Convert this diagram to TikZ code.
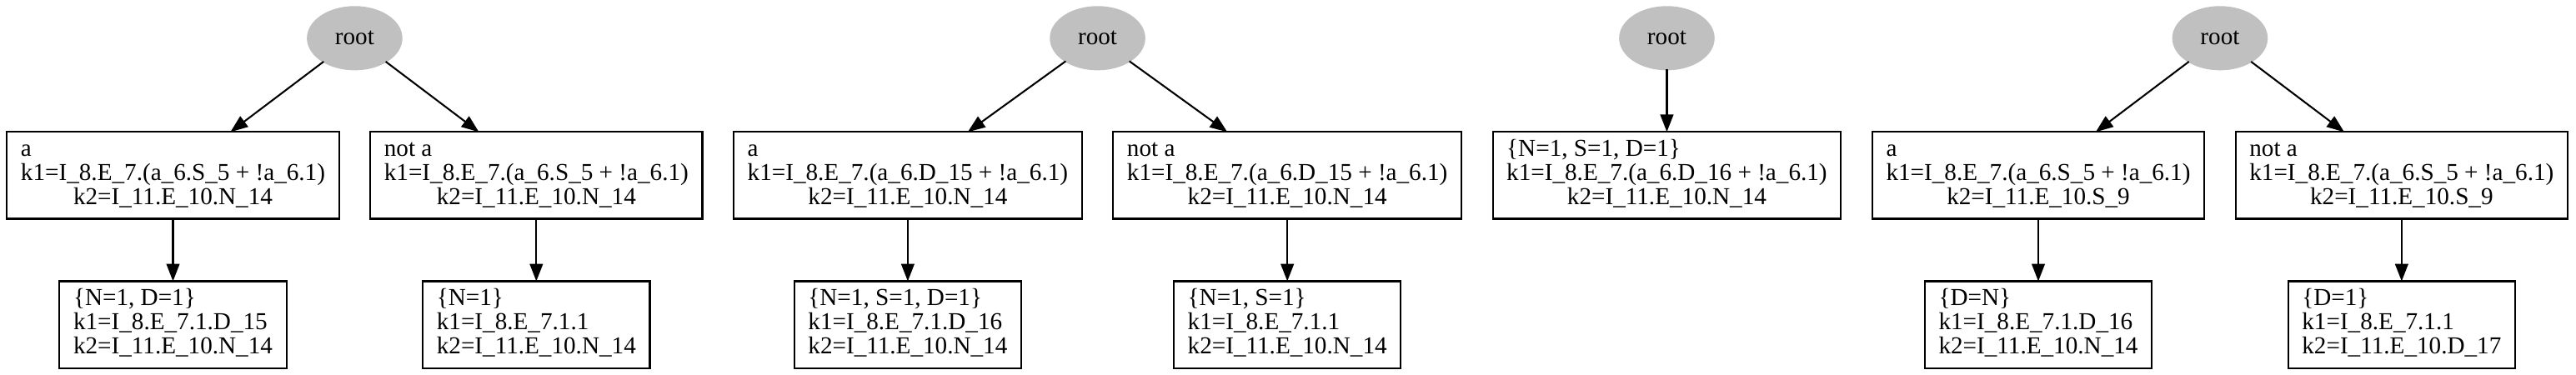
\documentclass[tikz,border=0pt]{standalone}
\usepackage{fontspec}
\setmainfont{Liberation Serif}
\usetikzlibrary{arrows.meta,positioning,calc,shapes.geometric}
\definecolor{rootgray}{HTML}{C0C0C0}
\newcommand{\condlab}[3]{\begin{tabular}{@{}l@{}}#1\\#2\\\multicolumn{1}{@{}c@{}}{#3}\end{tabular}}
\newcommand{\leaflab}[3]{\begin{tabular}{@{}l@{}}#1\\#2\\#3\end{tabular}}
\tikzset{
  rootnode/.style={ellipse,fill=rootgray,draw=rootgray,line width=1pt,
    minimum width=54pt,minimum height=36pt,inner sep=0pt,outer sep=0pt,
    font=\fontsize{14}{14}\selectfont},
  condbox/.style={draw,line width=1pt,inner xsep=8pt,inner ysep=4pt,
    outer sep=0pt,font=\fontsize{14}{14}\selectfont},
  link/.style={line width=1pt,-{Triangle[length=10pt,width=7.5pt]}}
}

\begin{document}
\begin{tikzpicture}
  \useasboundingbox (0,0) rectangle (1483.2pt,-216pt);
  % middle row, left to right
  \node[condbox,anchor=west] (a1) at (4pt,-101pt)
    {\condlab{a}{k1=I\_8.E\_7.(a\_6.S\_5 + !a\_6.1)}{k2=I\_11.E\_10.N\_14}};
  \node[condbox,right=18pt of a1] (n1)
    {\condlab{not a}{k1=I\_8.E\_7.(a\_6.S\_5 + !a\_6.1)}{k2=I\_11.E\_10.N\_14}};
  \node[condbox,right=18pt of n1] (a2)
    {\condlab{a}{k1=I\_8.E\_7.(a\_6.D\_15 + !a\_6.1)}{k2=I\_11.E\_10.N\_14}};
  \node[condbox,right=18pt of a2] (n2)
    {\condlab{not a}{k1=I\_8.E\_7.(a\_6.D\_15 + !a\_6.1)}{k2=I\_11.E\_10.N\_14}};
  \node[condbox,right=18pt of n2] (c3)
    {\condlab{\{N=1, S=1, D=1\}}{k1=I\_8.E\_7.(a\_6.D\_16 + !a\_6.1)}{k2=I\_11.E\_10.N\_14}};
  \node[condbox,right=18pt of c3] (a4)
    {\condlab{a}{k1=I\_8.E\_7.(a\_6.S\_5 + !a\_6.1)}{k2=I\_11.E\_10.S\_9}};
  \node[condbox,right=18pt of a4] (n4)
    {\condlab{not a}{k1=I\_8.E\_7.(a\_6.S\_5 + !a\_6.1)}{k2=I\_11.E\_10.S\_9}};

  % bottom row
  \node[condbox,below=36pt of a1] (l1)
    {\leaflab{\{N=1, D=1\}}{k1=I\_8.E\_7.1.D\_15}{k2=I\_11.E\_10.N\_14}};
  \node[condbox,below=36pt of n1] (m1)
    {\leaflab{\{N=1\}}{k1=I\_8.E\_7.1.1}{k2=I\_11.E\_10.N\_14}};
  \node[condbox,below=36pt of a2] (l2)
    {\leaflab{\{N=1, S=1, D=1\}}{k1=I\_8.E\_7.1.D\_16}{k2=I\_11.E\_10.N\_14}};
  \node[condbox,below=36pt of n2] (m2)
    {\leaflab{\{N=1, S=1\}}{k1=I\_8.E\_7.1.1}{k2=I\_11.E\_10.N\_14}};
  \node[condbox,below=36pt of a4] (l4)
    {\leaflab{\{D=N\}}{k1=I\_8.E\_7.1.D\_16}{k2=I\_11.E\_10.N\_14}};
  \node[condbox,below=36pt of n4] (m4)
    {\leaflab{\{D=1\}}{k1=I\_8.E\_7.1.1}{k2=I\_11.E\_10.D\_17}};

  % roots
  \node[rootnode] (r1) at ($(a1.north)!0.5!(n1.north)+(0,54pt)$) {root};
  \node[rootnode] (r2) at ($(a2.north)!0.5!(n2.north)+(0,54pt)$) {root};
  \node[rootnode] (r3) at ($(c3.north)+(0,54pt)$) {root};
  \node[rootnode] (r4) at ($(a4.north)!0.5!(n4.north)+(0,54pt)$) {root};

  \draw[link] (r1) -- (a1);
  \draw[link] (r1) -- (n1);
  \draw[link] (a1) -- (l1);
  \draw[link] (n1) -- (m1);
  \draw[link] (r2) -- (a2);
  \draw[link] (r2) -- (n2);
  \draw[link] (a2) -- (l2);
  \draw[link] (n2) -- (m2);
  \draw[link] (r3) -- (c3);
  \draw[link] (r4) -- (a4);
  \draw[link] (r4) -- (n4);
  \draw[link] (a4) -- (l4);
  \draw[link] (n4) -- (m4);
\end{tikzpicture}
\end{document}
